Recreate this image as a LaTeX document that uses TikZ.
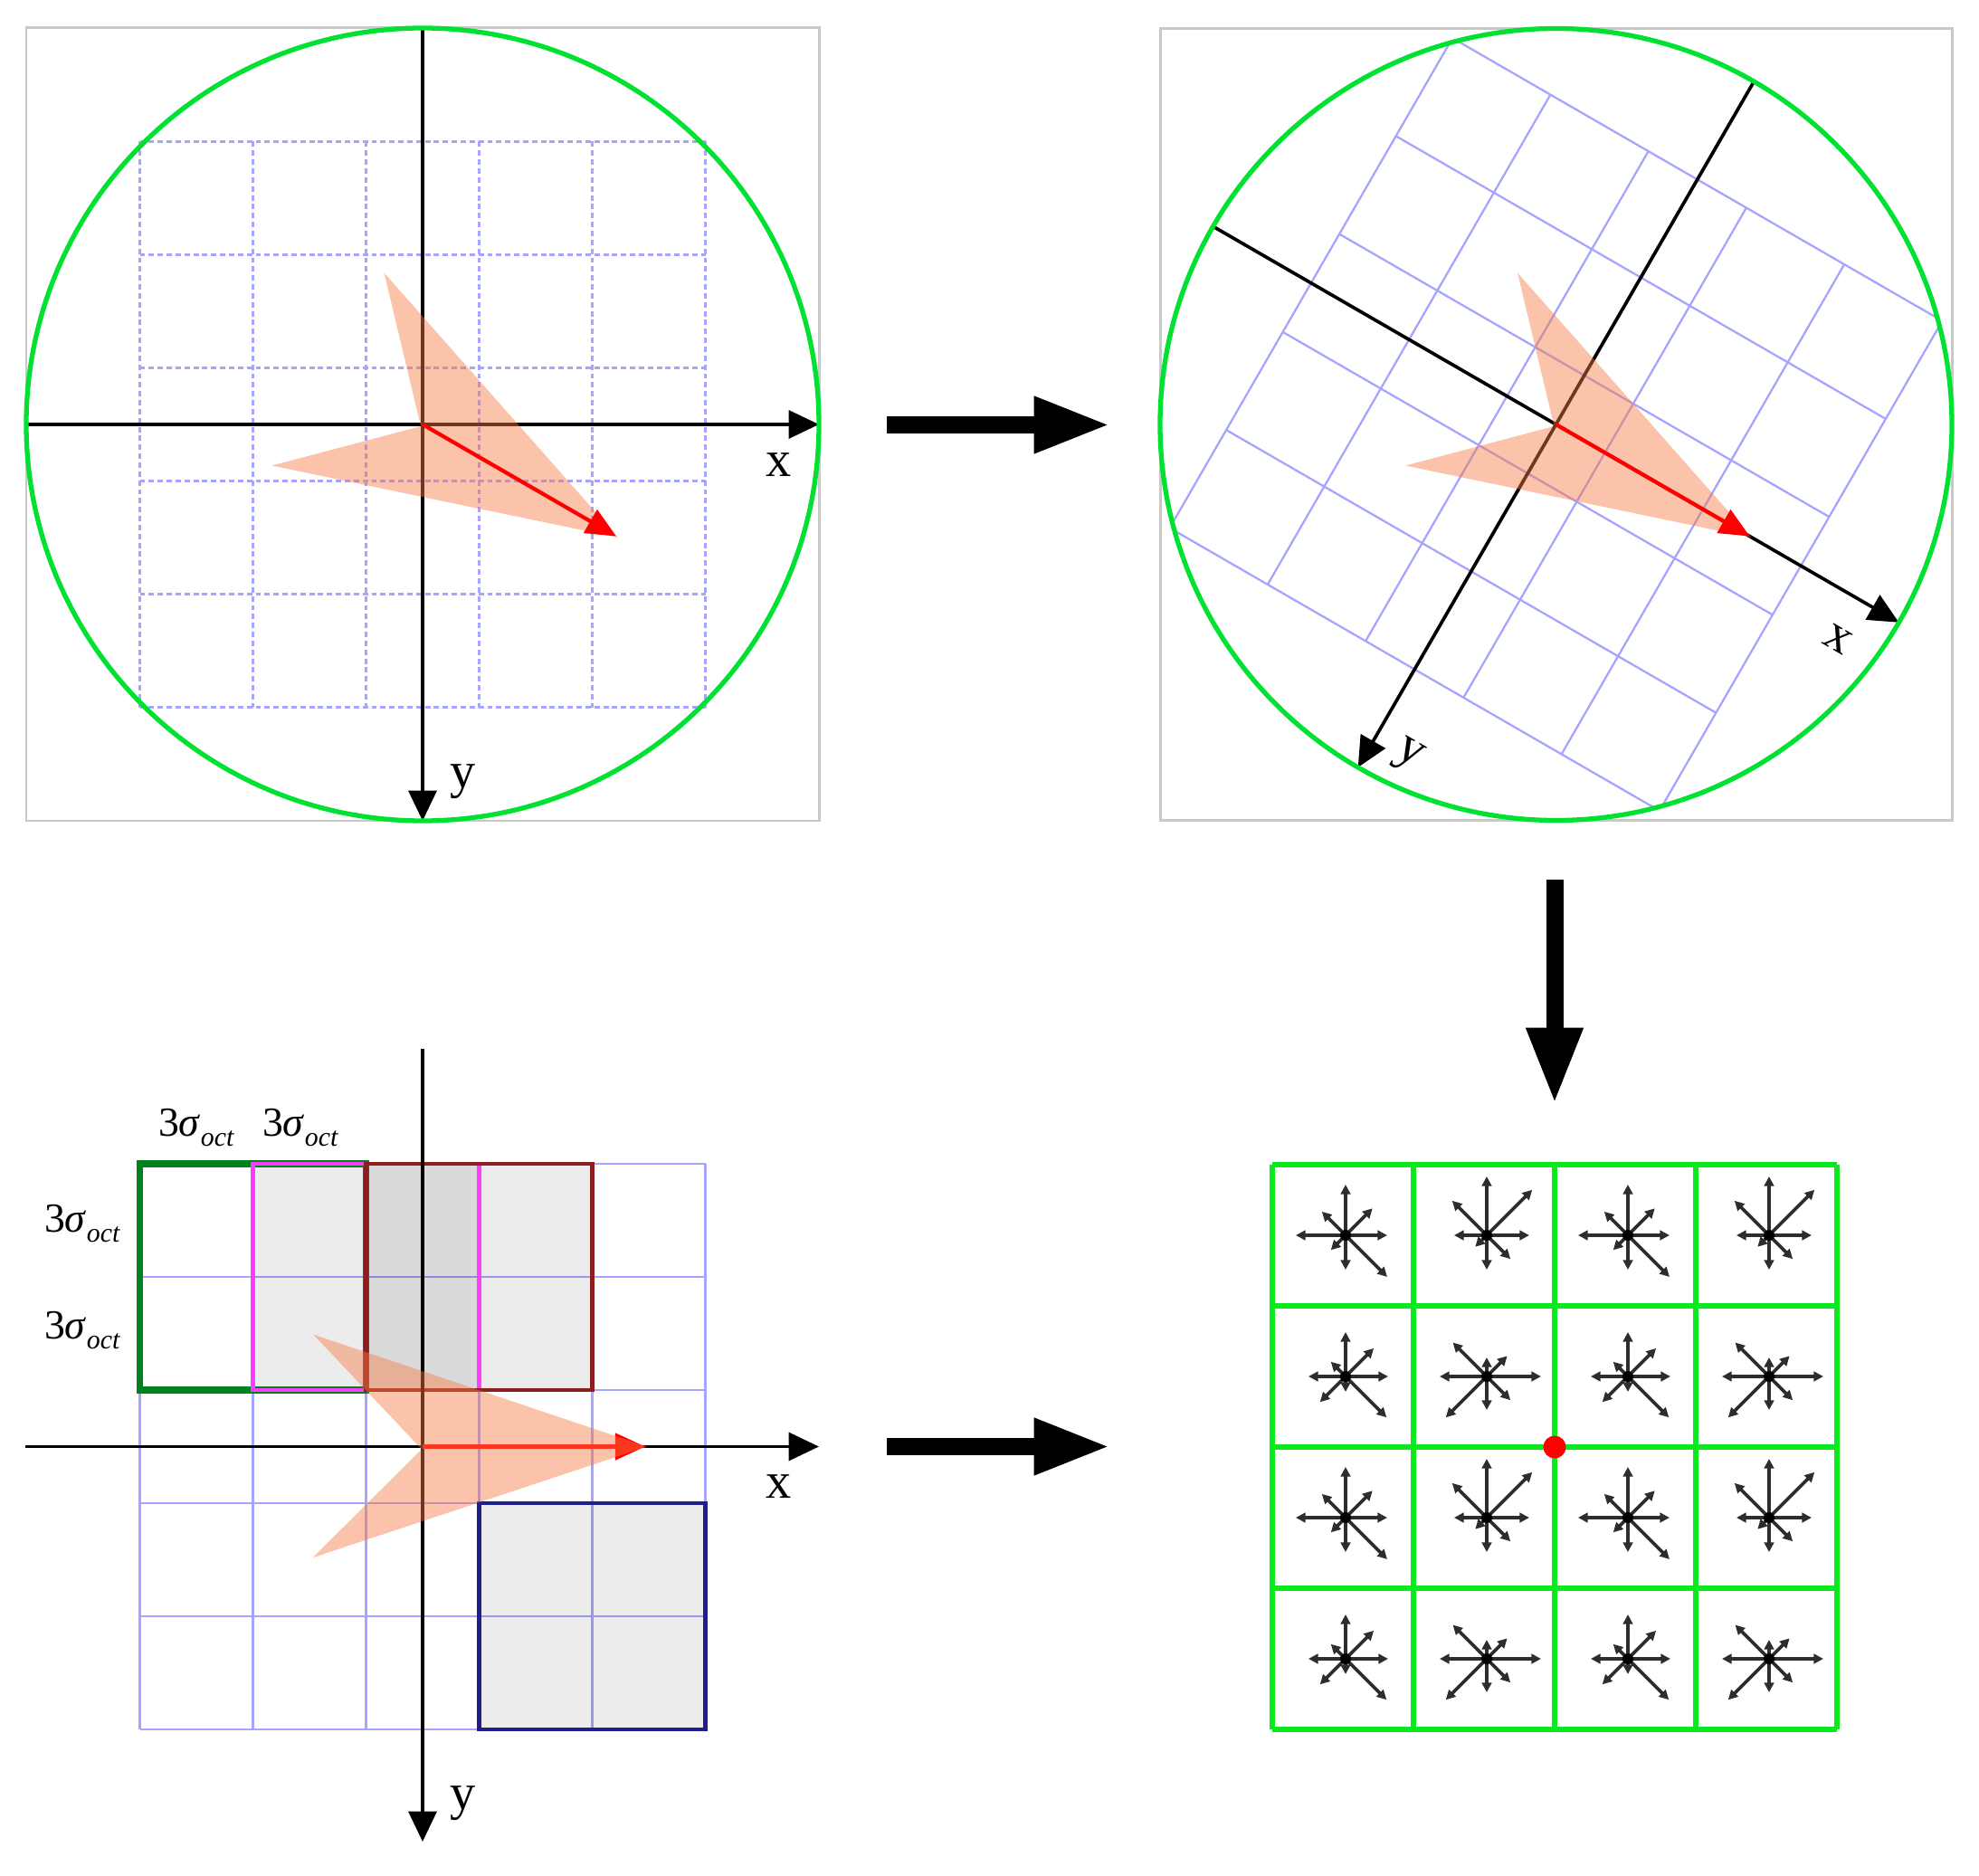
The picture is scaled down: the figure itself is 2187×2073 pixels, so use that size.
\documentclass[tikz,border=0pt]{standalone}
\usepackage{fontspec}
\setmainfont{Liberation Serif}
\usetikzlibrary{arrows.meta}
\definecolor{ringgreen}{RGB}{0,225,50}
\definecolor{cellgreen}{RGB}{10,232,30}
\definecolor{gridblue}{RGB}{165,165,255}
\definecolor{boxgray}{RGB}{200,200,200}
\definecolor{salmon}{RGB}{244,122,67}
\definecolor{dkgreen}{RGB}{0,128,30}
\definecolor{magentabox}{RGB}{255,60,255}
\definecolor{darkredbox}{RGB}{140,30,30}
\definecolor{navybox}{RGB}{30,30,140}
\definecolor{histgray}{RGB}{45,45,45}
\newcommand{\hstar}[9]{%
 \draw[histarrow] (#1) -- ++(#2,0);
 \draw[histarrow] (#1) -- ++({#3*0.7071},{-#3*0.7071});
 \draw[histarrow] (#1) -- ++(0,-#4);
 \draw[histarrow] (#1) -- ++({-#5*0.7071},{-#5*0.7071});
 \draw[histarrow] (#1) -- ++(-#6,0);
 \draw[histarrow] (#1) -- ++({-#7*0.7071},{#7*0.7071});
 \draw[histarrow] (#1) -- ++(0,#8);
 \draw[histarrow] (#1) -- ++({#9*0.7071},{#9*0.7071});
 \fill[black] (#1) circle (6);
}
\begin{document}
\begin{tikzpicture}[x=0.01cm,y=-0.01cm,
  panelbox/.style={draw=boxgray,line width=0.85pt},
  ring/.style={draw=ringgreen,line width=1.5pt},
  axis/.style={line width=1.05pt,-{Triangle[length=9.5pt,width=8.8pt]}},
  dashgrid/.style={draw=gridblue,line width=0.6pt,dash pattern=on 1.7pt off 1.1pt},
  solidgrid/.style={draw=gridblue,line width=0.65pt},
  blob/.style={fill=salmon,fill opacity=0.45},
  gradarrow/.style={draw=red,line width=1.2pt,-{Triangle[length=9.4pt,width=8.3pt]}},
  bigarrow/.style={line width=5.4pt,-{Triangle[length=24pt,width=16.5pt]}},
  axlabel/.style={font=\fontsize{16}{16}\selectfont},
  siglabel/.style={font=\fontsize{13}{13}\selectfont},
  histarrow/.style={draw=histgray,line width=1.05pt,-{Triangle[length=3pt,width=3pt]}},
  cellline/.style={draw=cellgreen,line width=1.45pt},
  shade/.style={fill=black,fill opacity=0.075},
]
\useasboundingbox (0,0) rectangle (2187,2073);

% ---------------- panel 1 ----------------
\coordinate (o1) at (467,469);
\draw[panelbox] (29,31) rectangle (905,907);
\foreach \k in {0,...,5}{
  \draw[dashgrid] (154.5+125*\k,156.5) -- (154.5+125*\k,781.5);
  \draw[dashgrid] (154.5,156.5+125*\k) -- (779.5,156.5+125*\k);
}
\coordinate (x1a) at (29,469); \coordinate (x1b) at (905,469);
\coordinate (y1a) at (467,31); \coordinate (y1b) at (467,907);
\draw[axis] (x1a) -- (x1b);
\draw[axis] (y1a) -- (y1b);
\draw[ring] (o1) circle (438);
\begin{scope}[shift={(o1)}]
  \fill[blob] (-42.5,-167.5) -- (216,125) -- (-166.5,45.5) -- (-2,2) -- cycle;
  \coordinate (g1) at (214,123.5);
\end{scope}
\draw[gradarrow] (o1) -- (g1);
\node[axlabel] (xl1) at (861,514) {x};
\node[axlabel] (yl1) at (512,864) {y};

% ---------------- panel 2 ----------------
\coordinate (o2) at (1719.5,469);
\draw[panelbox] (1282,31.5) rectangle (2157,906.5);
\begin{scope}
  \clip (o2) circle (437.5);
  \begin{scope}[shift={(o2)},rotate=-30]
    \foreach \k in {0,...,5}{
      \draw[solidgrid] (-312.5+125*\k,-312.5) -- (-312.5+125*\k,312.5);
      \draw[solidgrid] (-312.5,-312.5+125*\k) -- (312.5,-312.5+125*\k);
    }
  \end{scope}
\end{scope}
\begin{scope}[shift={(o2)},rotate=-30]
  \coordinate (x2a) at (-437.5,0); \coordinate (x2b) at (437.5,0);
  \coordinate (y2a) at (0,-437.5); \coordinate (y2b) at (0,437.5);
\end{scope}
\draw[axis] (x2a) -- (x2b);
\draw[axis] (y2a) -- (y2b);
\draw[ring] (o2) circle (437.5);
\begin{scope}[shift={(o2)}]
  \fill[blob] (-42.5,-167.5) -- (216,125) -- (-166.5,45.5) -- (-2,2) -- cycle;
  \coordinate (g2) at (214,123.5);
\end{scope}
\draw[gradarrow] (o2) -- (g2);
\node[axlabel,rotate=-30] (xl2) at (2031,706) {x};
\node[axlabel,rotate=-30] (yl2) at (1556,836) {y};

% ---------------- panel 3 ----------------
\coordinate (o3) at (467,1598.5);
\foreach \k in {0,...,5}{
  \draw[solidgrid] (154.5+125*\k,1286) -- (154.5+125*\k,1911);
  \draw[solidgrid] (154.5,1286+125*\k) -- (779.5,1286+125*\k);
}
\fill[shade] (279.5,1286) rectangle (529.5,1536);
\fill[shade] (404.5,1286) rectangle (654.5,1536);
\fill[shade] (529.5,1661) rectangle (779.5,1911);
\draw[dkgreen,line width=2pt] (154.5,1286) rectangle (404.5,1536);
\draw[magentabox,line width=1.2pt] (279.5,1286) rectangle (529.5,1536);
\draw[darkredbox,line width=1.2pt] (404.5,1286) rectangle (654.5,1536);
\draw[navybox,line width=1.2pt] (529.5,1661) rectangle (779.5,1911);
\coordinate (x3a) at (28,1598.5); \coordinate (x3b) at (905,1598.5);
\coordinate (y3a) at (467,1159); \coordinate (y3b) at (467,2035);
\draw[axis] (x3a) -- (x3b);
\draw[axis] (y3a) -- (y3b);
\coordinate (g3) at (713,1598.5);
\draw[gradarrow] (o3) -- (g3);
\begin{scope}[shift={(o3)}]
  \fill[blob] (-120.6,-123.8) -- (248,0) -- (-121.4,122.7) -- (-1,3) -- cycle;
\end{scope}
\node[axlabel] (xl3) at (861,1643) {x};
\node[axlabel] (yl3) at (512,1993) {y};
\node[siglabel] (s1) at (217,1246) {3\textit{σ}\raisebox{-0.55ex}{\fontsize{8.5}{8.5}\selectfont\textit{oct}}};
\node[siglabel] (s2) at (332,1246) {3\textit{σ}\raisebox{-0.55ex}{\fontsize{8.5}{8.5}\selectfont\textit{oct}}};
\node[siglabel] (s3) at (91,1352) {3\textit{σ}\raisebox{-0.55ex}{\fontsize{8.5}{8.5}\selectfont\textit{oct}}};
\node[siglabel] (s4) at (91,1470) {3\textit{σ}\raisebox{-0.55ex}{\fontsize{8.5}{8.5}\selectfont\textit{oct}}};

% ---------------- panel 4 ----------------
\foreach \k in {0,...,4}{
  \draw[cellline] (1406+156*\k,1287) -- (1406+156*\k,1911);
  \draw[cellline] (1406,1287+156*\k) -- (2030,1287+156*\k);
}
\foreach \r/\yy in {0/1365,1/1521,2/1677,3/1833}{
  \foreach \c/\xx in {0/1487,1/1643,2/1799,3/1955}{
    \coordinate (h\r\c) at (\xx,\yy);
  }
}
\hstar{h00}{46}{42}{56}{37}{55}{23}{38}{65}
\hstar{h01}{47}{71}{65}{54}{36}{18}{38}{37}
\hstar{h02}{46}{42}{56}{37}{55}{23}{38}{65}
\hstar{h03}{47}{71}{65}{54}{36}{18}{38}{37}
\hstar{h10}{47}{44}{49}{23}{41}{40}{17}{64}
\hstar{h11}{60}{32}{21}{53}{52}{64}{37}{37}
\hstar{h12}{47}{44}{49}{23}{41}{40}{17}{64}
\hstar{h13}{60}{32}{21}{53}{52}{64}{37}{37}
\hstar{h20}{46}{42}{56}{37}{55}{23}{38}{65}
\hstar{h21}{47}{71}{65}{54}{36}{18}{38}{37}
\hstar{h22}{46}{42}{56}{37}{55}{23}{38}{65}
\hstar{h23}{47}{71}{65}{54}{36}{18}{38}{37}
\hstar{h30}{47}{44}{49}{23}{41}{40}{17}{64}
\hstar{h31}{60}{32}{21}{53}{52}{64}{37}{37}
\hstar{h32}{47}{44}{49}{23}{41}{40}{17}{64}
\hstar{h33}{60}{32}{21}{53}{52}{64}{37}{37}
\coordinate (kp) at (1718,1599);
\fill[red] (kp) circle (12.5);

% ---------------- big arrows ----------------
\coordinate (a1s) at (980,469.5); \coordinate (a1e) at (1227,469.5);
\coordinate (a2s) at (1718,972);  \coordinate (a2e) at (1718,1220);
\coordinate (a3s) at (980,1598.5); \coordinate (a3e) at (1227,1598.5);
\draw[bigarrow] (a1s) -- (a1e);
\draw[bigarrow] (a2s) -- (a2e);
\draw[bigarrow] (a3s) -- (a3e);
\end{tikzpicture}
\end{document}
